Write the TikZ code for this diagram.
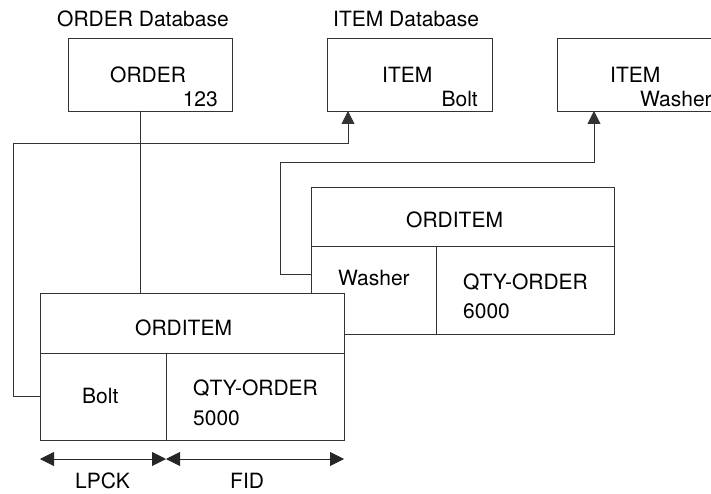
\documentclass[tikz,border=0pt]{standalone}
\usepackage{fontspec}
\setmainfont{TeX Gyre Heros}
\usetikzlibrary{arrows.meta, positioning}

\begin{document}
\begin{tikzpicture}[x=1pt, y=-1pt,
    cell/.style={draw=black!80, fill=white, line width=0.8pt, inner sep=0pt, outer sep=0pt},
    lbl/.style={inner sep=0pt, anchor=base west, font=\fontsize{21}{25}\selectfont},
    line/.style={draw=black!80, line width=0.8pt},
    link/.style={line, -{Triangle[width=13pt,length=13pt]}},
    dim/.style={draw=black!85, line width=0.9pt, {Triangle[width=14pt,length=14pt]}-{Triangle[width=14pt,length=14pt]}}]
  \path[use as bounding box, clip] (0,0) rectangle (711,494);

  % database segments
  \node[cell, minimum width=164pt, minimum height=73pt] (order) at (150,74.5) {};
  \node[cell, minimum width=165pt, minimum height=73pt] (itembolt) at (409.5,74.5) {};
  \node[cell, minimum width=168pt, minimum height=73pt] (itemwsh) at (641,74.5) {};
  \node[lbl] (orderdb) at (57,27) {ORDER Database};
  \node[lbl] (itemdb) at (333,27) {ITEM Database};
  \node[lbl] (ordername) at (110,83) {ORDER};
  \node[lbl, anchor=base east] (orderkey) at (218,107) {123};
  \node[lbl] (boltname) at (382,83) {ITEM};
  \node[lbl, anchor=base east] (boltkey) at (478,107) {Bolt};
  \node[lbl] (wshname) at (610,83) {ITEM};
  \node[lbl] (wshkey) at (640,107) {Washer};

  % second ORDITEM (behind)
  \node[cell, minimum width=303pt, minimum height=59pt] (btop) at (462.5,216.5) {};
  \node[cell, minimum width=125pt, minimum height=88pt, below right=0pt of btop.south west] (bkey) {};
  \node[cell, minimum width=178pt, minimum height=88pt, right=0pt of bkey] (bqty) {};
  \node[lbl] (btopname) at (406,228) {ORDITEM};
  \node[lbl] (bkeyname) at (338,285) {Washer};
  \node[lbl] (bqtyname) at (463,289) {QTY-ORDER};
  \node[lbl] (bqtyval) at (463,318) {6000};
  \coordinate (wshjog) at (280,162);
  \coordinate (wshtip) at ([xshift=37pt]itemwsh.south west);
  \draw[link] ([yshift=16pt]bkey.west) -| (wshjog) -| (wshtip);

  % first ORDITEM (front)
  \node[cell, minimum width=304pt, minimum height=60pt] (ftop) at (192,323) {};
  \node[cell, minimum width=126pt, minimum height=87pt, below right=0pt of ftop.south west] (fkey) {};
  \node[cell, minimum width=178pt, minimum height=87pt, right=0pt of fkey] (fqty) {};
  \node[lbl] (ftopname) at (135,335) {ORDITEM};
  \node[lbl] (fkeyname) at (82,403) {Bolt};
  \node[lbl] (fqtyname) at (193,395) {QTY-ORDER};
  \node[lbl] (fqtyval) at (193,425) {5000};

  \coordinate (ordfoot) at (140,111);
  \draw[line] (ordfoot) -- (ordfoot |- ftop.north);
  \coordinate (boltjog) at (13,143);
  \coordinate (bolttip) at ([xshift=21pt]itembolt.south west);
  \draw[link] (fkey.west) -| (boltjog) -| (bolttip);

  % field extents
  \coordinate (dimrow) at (0,459);
  \draw[dim] (fkey.south west |- dimrow) -- (fkey.south east |- dimrow);
  \draw[dim] (fqty.south west |- dimrow) -- (fqty.south east |- dimrow);
  \node[lbl] (lpck) at (75,488) {LPCK};
  \node[lbl] (fid) at (230,488) {FID};
\end{tikzpicture}
\end{document}
